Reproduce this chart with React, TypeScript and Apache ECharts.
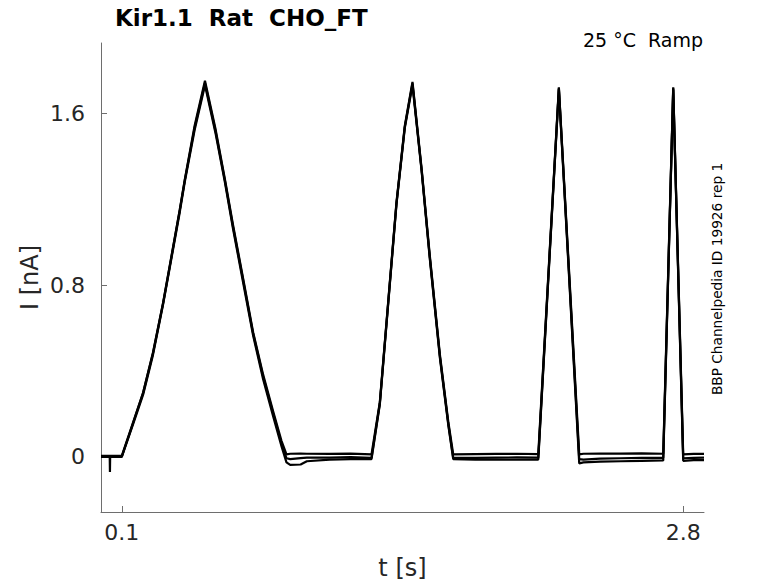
import React, { useEffect, useRef } from "react";
import * as echarts from "echarts";

// time points (s)
const times = [
  0, 0.042, 0.043, 0.044, 0.1, 0.154, 0.2025, 0.25, 0.2987, 0.339,
  0.379, 0.403, 0.45, 0.5, 0.55, 0.5955, 0.635, 0.6835, 0.7316, 0.7797,
  0.8278, 0.868, 0.892, 0.91, 0.96, 0.99, 1.1, 1.2, 1.301, 1.341,
  1.381, 1.421, 1.461, 1.498, 1.542, 1.581, 1.63, 1.67, 1.694, 1.8,
  1.9, 2.0, 2.103, 2.202, 2.3, 2.32, 2.4, 2.5, 2.6, 2.704,
  2.752, 2.8, 2.85, 2.9,
];

// current (nA), three repetitions
const rep1 = [
  0.0, 0.0, -0.07, 0.0, 0.0, 0.157, 0.297, 0.483, 0.715, 0.932,
  1.149, 1.288, 1.53, 1.74, 1.52, 1.288, 1.071, 0.823, 0.574, 0.374,
  0.203, 0.063, -0.006, -0.01, -0.005, -0.003, -0.003, 0.0, -0.004, 0.25,
  0.715, 1.18, 1.536, 1.738, 1.335, 0.932, 0.467, 0.157, -0.004, -0.004,
  -0.003, -0.002, -0.003, 1.715, -0.01, -0.012, -0.008, -0.006, -0.004, -0.004,
  1.715, -0.006, -0.004, -0.003,
];
const rep2 = [
  0.005, 0.005, 0.005, 0.005, 0.005, 0.16, 0.3, 0.486, 0.718, 0.935,
  1.152, 1.29, 1.54, 1.75, 1.53, 1.295, 1.08, 0.83, 0.58, 0.383,
  0.213, 0.075, 0.012, 0.015, 0.016, 0.015, 0.014, 0.016, 0.012, 0.255,
  0.72, 1.185, 1.54, 1.745, 1.34, 0.94, 0.475, 0.165, 0.012, 0.013,
  0.014, 0.015, 0.013, 1.72, 0.012, 0.015, 0.016, 0.016, 0.017, 0.015,
  1.72, 0.012, 0.014, 0.014,
];
const rep3 = [
  0.002, 0.002, 0.002, 0.002, 0.002, 0.152, 0.29, 0.475, 0.71, 0.925,
  1.14, 1.28, 1.52, 1.73, 1.51, 1.28, 1.062, 0.812, 0.565, 0.362,
  0.19, 0.05, -0.025, -0.037, -0.035, -0.02, -0.012, -0.01, -0.01, 0.245,
  0.71, 1.175, 1.53, 1.73, 1.33, 0.925, 0.46, 0.15, -0.01, -0.012,
  -0.012, -0.012, -0.012, 1.71, -0.03, -0.025, -0.022, -0.02, -0.018, -0.016,
  1.71, -0.018, -0.015, -0.015,
];

const xTicks = [0.1, 2.8];
const yTicks = [0, 0.8, 1.6];

const titleText = "Kir1.1  Rat  CHO_FT";
const condText = "25 °C  Ramp";
const sideText = "BBP Channelpedia ID 19926 rep 1";

const FONT = "DejaVu Sans";
const AXIS_GRAY = "#6e6e6e";
const TEXT_DARK = "#262626";

export default function App() {
  const ref = useRef<HTMLDivElement>(null);
  useEffect(() => {
    if (!ref.current) return;
    const chart = echarts.init(ref.current, undefined, { renderer: "svg" });
    const reps = [rep1, rep2, rep3];
    chart.setOption({
      animation: false,
      backgroundColor: "#fff",
      title: [
        {
          text: titleText,
          left: 115,
          top: 6,
          padding: 0,
          textStyle: { fontFamily: FONT, fontSize: 23, fontWeight: "bold", color: "#000" },
        },
        {
          text: condText,
          right: 75,
          top: 30,
          padding: 0,
          textStyle: { fontFamily: FONT, fontSize: 19, fontWeight: "normal", color: "#000" },
        },
      ],
      grid: { left: 101, right: 74, top: 43, bottom: 71, outerBoundsMode: "none" },
      xAxis: {
        type: "value",
        min: 0,
        max: 2.9,
        name: "t [s]",
        nameLocation: "middle",
        nameGap: 44,
        nameMoveOverlap: false,
        nameTextStyle: { fontFamily: FONT, fontSize: 24, color: TEXT_DARK },
        axisLine: { show: true, onZero: false, lineStyle: { color: AXIS_GRAY, width: 1 } },
        axisTick: { show: true, inside: true, length: 6, customValues: xTicks, lineStyle: { color: AXIS_GRAY } },
        axisLabel: {
          customValues: xTicks,
          margin: 9,
          fontFamily: FONT,
          fontSize: 22,
          color: TEXT_DARK,
          formatter: (v: number) => String(v),
        },
        splitLine: { show: false },
      },
      yAxis: {
        type: "value",
        min: -0.256,
        max: 1.926,
        name: "I [nA]",
        nameLocation: "middle",
        nameGap: 59,
        nameMoveOverlap: false,
        nameTextStyle: { fontFamily: FONT, fontSize: 24, color: TEXT_DARK },
        axisLine: { show: true, onZero: false, lineStyle: { color: AXIS_GRAY, width: 1 } },
        axisTick: { show: true, inside: true, length: 6, customValues: yTicks, lineStyle: { color: AXIS_GRAY } },
        axisLabel: {
          customValues: yTicks,
          margin: 16,
          fontFamily: FONT,
          fontSize: 22,
          color: TEXT_DARK,
          formatter: (v: number) => String(v),
        },
        splitLine: { show: false },
      },
      graphic: [
        {
          type: "text",
          x: 717,
          y: 279,
          rotation: Math.PI / 2,
          style: {
            text: sideText,
            fontFamily: FONT,
            fontSize: 13.7,
            fill: "#000",
            textAlign: "center",
            textVerticalAlign: "middle",
          },
        },
      ],
      series: reps.map((rep, k) => ({
        type: "line",
        name: "rep" + (k + 1),
        data: times.map((t, i) => [t, rep[i]]),
        showSymbol: false,
        symbol: "none",
        clip: true,
        lineStyle: { color: "#000", width: 2.2 },
      })),
    });
    return () => chart.dispose();
  }, []);
  return (
    <div
      ref={ref}
      style={{ position: "fixed", left: 0, top: 0, width: 778, height: 583, background: "#fff" }}
    />
  );
}
